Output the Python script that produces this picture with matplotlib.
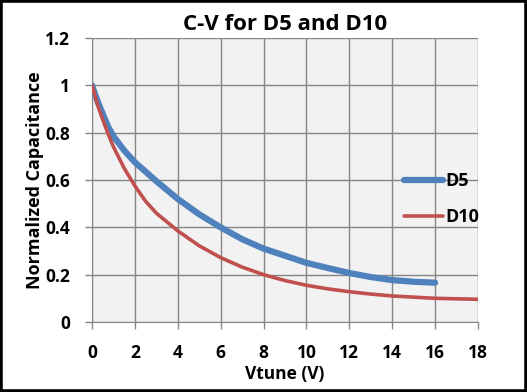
import matplotlib.pyplot as plt
from matplotlib.patches import Rectangle

# C-V curves
v_d5 = [0, 0.25, 0.5, 0.75, 1, 1.5, 2, 2.5, 3, 4, 5, 6, 7, 8, 9, 10, 11, 12, 13, 14, 15, 16]
c_d5 = [1.0, 0.935, 0.88, 0.825, 0.785, 0.725, 0.675, 0.635, 0.595, 0.52, 0.455,
        0.40, 0.35, 0.31, 0.28, 0.25, 0.228, 0.207, 0.19, 0.177, 0.17, 0.166]
v_d10 = [0, 0.25, 0.5, 0.75, 1, 1.5, 2, 2.5, 3, 4, 5, 6, 7, 8, 9, 10, 11, 12, 13,
         14, 15, 16, 17, 18]
c_d10 = [1.0, 0.92, 0.855, 0.795, 0.74, 0.65, 0.575, 0.51, 0.46, 0.385, 0.322,
         0.272, 0.232, 0.20, 0.175, 0.155, 0.14, 0.128, 0.118, 0.11, 0.105, 0.10,
         0.098, 0.096]
x_ticks = [0, 2, 4, 6, 8, 10, 12, 14, 16, 18]
y_ticks = [0, 0.2, 0.4, 0.6, 0.8, 1.0, 1.2]
y_labels = ['0', '0.2', '0.4', '0.6', '0.8', '1', '1.2']

plt.rcParams['font.family'] = ['Open Sans', 'DejaVu Sans']
plt.rcParams['font.weight'] = 'bold'

fig = plt.figure(figsize=(5.27, 3.92), dpi=100)
ax = fig.add_axes([0.1746, 0.1786, 0.7324, 0.7244])
ax.set_facecolor('#F2F2F2')

ax.plot(v_d5, c_d5, color='#4F81BD', lw=4.5, solid_capstyle='round',
        solid_joinstyle='round', label='D5', zorder=3)
ax.plot(v_d10, c_d10, color='#C0504D', lw=2.6, solid_capstyle='round',
        solid_joinstyle='round', label='D10', zorder=3)

ax.set_xlim(0, 18)
ax.set_ylim(0, 1.2)
ax.set_xticks(x_ticks)
ax.set_yticks(y_ticks)
ax.set_yticklabels(y_labels)
ax.grid(True, color='#868686', lw=1)
ax.set_axisbelow(True)
for s in ['top', 'right']:
    ax.spines[s].set_visible(False)
for s in ['left', 'bottom']:
    ax.spines[s].set_color('#868686')
ax.tick_params(colors='#868686', labelcolor='black', length=5, width=1,
               labelsize=12.5, pad=11)
for lab in ax.get_xticklabels() + ax.get_yticklabels():
    lab.set_fontweight('bold')

ax.set_title('C-V for D5 and D10', fontsize=16, fontweight='bold', pad=6)
ax.set_xlabel('Vtune (V)', fontsize=12.5, fontweight='bold', labelpad=2)
ax.set_ylabel('Normalized Capacitance', fontsize=13, fontweight='bold', labelpad=1)

ax.legend(loc='center left', bbox_to_anchor=(0.735, 0.432, 0.1, 0.12),
          bbox_transform=fig.transFigure, frameon=False,
          handlelength=2.2, handletextpad=0.1, labelspacing=1.0,
          prop={'weight': 'bold', 'size': 13})

fig.patches.append(Rectangle((0, 0), 1, 1, transform=fig.transFigure,
                             fill=False, edgecolor='black', lw=4))

fig.savefig('out.png', dpi=100)
